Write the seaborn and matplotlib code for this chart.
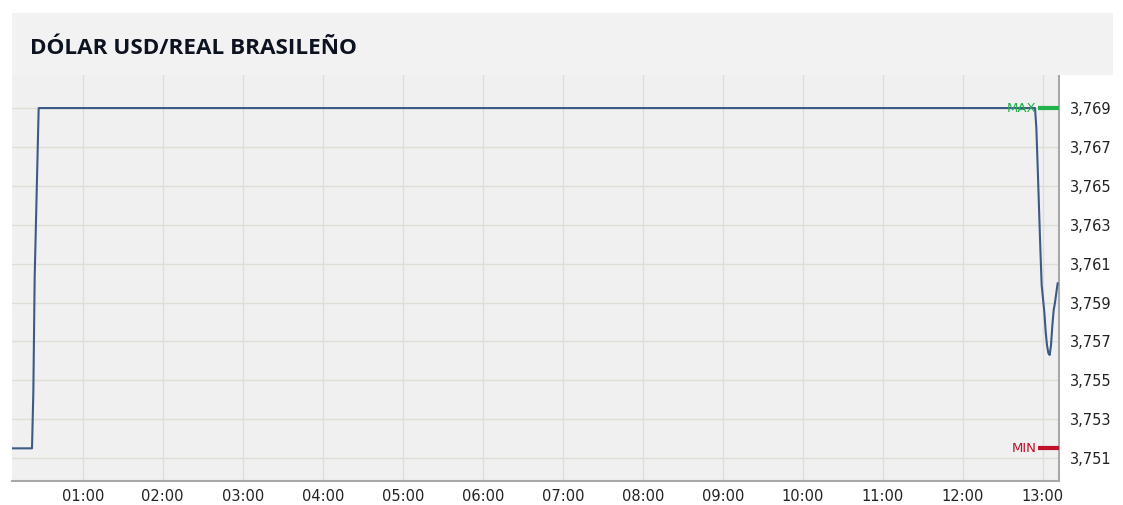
import matplotlib
matplotlib.use("Agg")
import matplotlib.pyplot as plt
import matplotlib.ticker as mticker
from matplotlib.patches import Rectangle
import pandas as pd
import seaborn as sns

# quotes (hh:mm, price)
times = ["00:07", "00:22", "00:23", "00:24", "00:26", "00:27", "12:54", "12:55",
         "12:56", "12:57", "12:58", "12:59", "13:00", "13:01", "13:02", "13:03",
         "13:04", "13:05", "13:06", "13:07", "13:08", "13:09", "13:10", "13:11"]
prices = [3.7515, 3.7515, 3.7544, 3.7603, 3.7661, 3.769, 3.769, 3.768,
          3.766, 3.7639, 3.7618, 3.7599, 3.7592, 3.7585, 3.7575, 3.7568,
          3.7564, 3.7563, 3.7568, 3.7578, 3.7586, 3.759, 3.7595, 3.760]
y_ticks = [3.751, 3.753, 3.755, 3.757, 3.759, 3.761, 3.763, 3.765, 3.767, 3.769]
x_ticks = list(range(1, 14))
max_val = 3.769
min_val = 3.7515
title = "DÓLAR USD/REAL BRASILEÑO"


def to_hours(s):
    h, m = s.split(":")
    return int(h) + int(m) / 60


df = pd.DataFrame({"hora": [to_hours(t) for t in times], "precio": prices})

sns.set_style("white")
fig = plt.figure(figsize=(11.23, 5.05), dpi=100)

# title band
fig.patches.append(Rectangle((12 / 1123, 1 - 75 / 505), 1101 / 1123, 62 / 505,
                             transform=fig.transFigure, facecolor="#f2f2f2",
                             edgecolor="none", zorder=0))
fig.text(30 / 1123, 1 - 48 / 505, title, fontsize=16.2, fontweight="bold",
         family="Open Sans", color="#0d1220", va="center", ha="left")

ax = fig.add_axes([12 / 1123, 1 - 481 / 505, 1047 / 1123, 406 / 505])
ax.set_facecolor("#f0f0f0")

sns.lineplot(data=df, x="hora", y="precio", ax=ax, color="#3d5a86",
             linewidth=1.5, zorder=3)

x_min = to_hours("00:07")
x_max = 13.2
ax.set_xlim(x_min, x_max)
ax.set_ylim(3.74982, 3.7707)

ax.set_xticks(x_ticks)
ax.xaxis.set_major_formatter(mticker.FuncFormatter(lambda v, p: f"{int(v):02d}:00"))
ax.set_yticks(y_ticks)
ax.yaxis.set_major_formatter(mticker.FuncFormatter(lambda v, p: f"{v:.3f}".replace(".", ",")))
ax.yaxis.tick_right()
ax.tick_params(axis="both", length=0, labelsize=10.5, colors="#222222")
ax.tick_params(axis="y", pad=8)
ax.tick_params(axis="x", pad=6)
ax.grid(True, color="#deded6", linewidth=1)
ax.set_axisbelow(True)
ax.set_xlabel("")
ax.set_ylabel("")

for side in ["left", "top"]:
    ax.spines[side].set_visible(False)
for side in ["bottom", "right"]:
    ax.spines[side].set_color("#a8a8a8")
    ax.spines[side].set_linewidth(1.5)

# max / min markers at the right edge
for val, label, col in [(max_val, "MAX", "#22b14c"), (min_val, "MIN", "#c0102a")]:
    ax.plot([12.94, 13.2], [val, val], color=col, linewidth=3, zorder=4,
            solid_capstyle="butt", clip_on=False)
    ax.text(12.915, val, label, color=col, fontsize=9.5, ha="right", va="center",
            zorder=4)

fig.savefig("out.png", dpi=100)
